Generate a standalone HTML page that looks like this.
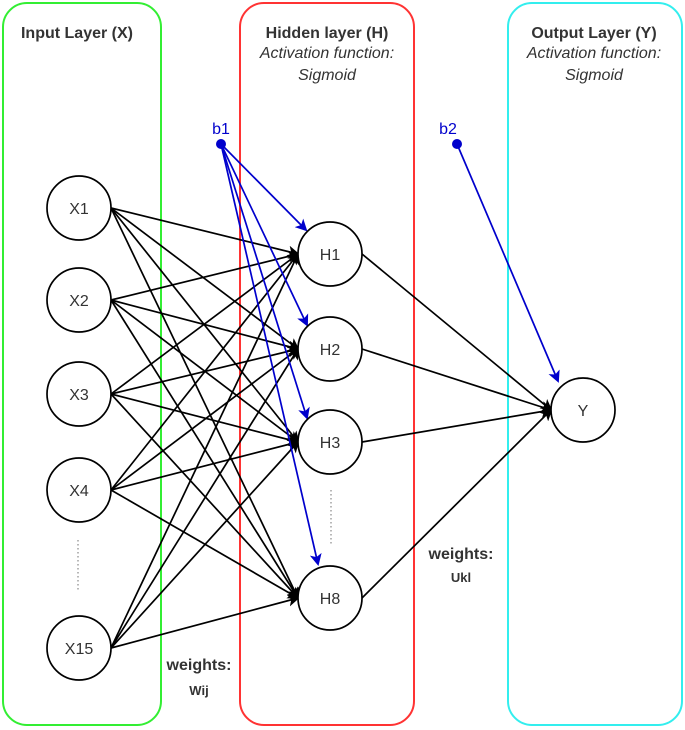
<!DOCTYPE html>
<html><head><meta charset="utf-8"><style>html,body{margin:0;padding:0;background:#fff}svg{display:block}text{font-family:"Liberation Sans",Arial,sans-serif;fill:#333}</style></head><body>
<svg width="685" height="730" viewBox="0 0 685 730" xmlns="http://www.w3.org/2000/svg">
<defs>
<marker id="ak" markerWidth="12" markerHeight="12" refX="10" refY="6" orient="auto" markerUnits="userSpaceOnUse"><path d="M0,0 L12,6 L0,12 L3,6 z" fill="#000"/></marker>
<marker id="ab" markerWidth="12" markerHeight="12" refX="10" refY="6" orient="auto" markerUnits="userSpaceOnUse"><path d="M0,0 L12,6 L0,12 L3,6 z" fill="#0000cc"/></marker>
</defs>
<rect x="3" y="3" width="158" height="722" rx="24" fill="none" stroke="#33ee33" stroke-width="2"/>
<rect x="240" y="3" width="174" height="722" rx="24" fill="none" stroke="#ff3333" stroke-width="2"/>
<rect x="508" y="3" width="174" height="722" rx="24" fill="none" stroke="#33eeee" stroke-width="2"/>
<text x="77" y="38" text-anchor="middle" font-size="16" font-weight="bold">Input Layer (X)</text>
<text x="327" y="38" text-anchor="middle" font-size="16" font-weight="bold">Hidden layer (H)</text>
<text x="327" y="58" text-anchor="middle" font-size="16" font-style="italic">Activation function:</text>
<text x="327" y="80" text-anchor="middle" font-size="16" font-style="italic">Sigmoid</text>
<text x="594" y="38" text-anchor="middle" font-size="16" font-weight="bold">Output Layer (Y)</text>
<text x="594" y="58" text-anchor="middle" font-size="16" font-style="italic">Activation function:</text>
<text x="594" y="80" text-anchor="middle" font-size="16" font-style="italic">Sigmoid</text>
<g stroke="#000" stroke-width="1.7" marker-end="url(#ak)">
<line x1="111" y1="208" x2="298" y2="254"/><line x1="111" y1="208" x2="298" y2="349"/><line x1="111" y1="208" x2="298" y2="442"/><line x1="111" y1="208" x2="298" y2="598"/>
<line x1="111" y1="300" x2="298" y2="254"/><line x1="111" y1="300" x2="298" y2="349"/><line x1="111" y1="300" x2="298" y2="442"/><line x1="111" y1="300" x2="298" y2="598"/>
<line x1="111" y1="394" x2="298" y2="254"/><line x1="111" y1="394" x2="298" y2="349"/><line x1="111" y1="394" x2="298" y2="442"/><line x1="111" y1="394" x2="298" y2="598"/>
<line x1="111" y1="490" x2="298" y2="254"/><line x1="111" y1="490" x2="298" y2="349"/><line x1="111" y1="490" x2="298" y2="442"/><line x1="111" y1="490" x2="298" y2="598"/>
<line x1="111" y1="648" x2="298" y2="254"/><line x1="111" y1="648" x2="298" y2="349"/><line x1="111" y1="648" x2="298" y2="442"/><line x1="111" y1="648" x2="298" y2="598"/>
<line x1="362" y1="254" x2="551" y2="410"/><line x1="362" y1="349" x2="551" y2="410"/><line x1="362" y1="442" x2="551" y2="410"/><line x1="362" y1="598" x2="551" y2="410"/>
</g>
<g stroke="#0000cc" stroke-width="1.7" marker-end="url(#ab)">
<line x1="221" y1="144" x2="306" y2="230"/><line x1="221" y1="144" x2="307" y2="325"/><line x1="221" y1="144" x2="307" y2="418"/><line x1="221" y1="144" x2="318" y2="564"/>
<line x1="457" y1="144" x2="558" y2="381"/>
</g>
<circle cx="221" cy="144" r="5" fill="#0000cc"/><circle cx="457" cy="144" r="5" fill="#0000cc"/>
<text x="221" y="134" text-anchor="middle" font-size="16" style="fill:#0000cc">b1</text>
<text x="448" y="134" text-anchor="middle" font-size="16" style="fill:#0000cc">b2</text>
<g fill="#fff" stroke="#000" stroke-width="1.7">
<circle cx="79" cy="208" r="32"/><circle cx="79" cy="300" r="32"/><circle cx="79" cy="394" r="32"/><circle cx="79" cy="490" r="32"/><circle cx="79" cy="648" r="32"/>
<circle cx="330" cy="254" r="32"/><circle cx="330" cy="349" r="32"/><circle cx="330" cy="442" r="32"/><circle cx="330" cy="598" r="32"/>
<circle cx="583" cy="410" r="32"/>
</g>
<g font-size="16" text-anchor="middle">
<text x="79" y="214">X1</text><text x="79" y="306">X2</text><text x="79" y="400">X3</text><text x="79" y="496">X4</text><text x="79" y="654">X15</text>
<text x="330" y="260">H1</text><text x="330" y="355">H2</text><text x="330" y="448">H3</text><text x="330" y="604">H8</text>
<text x="583" y="416">Y</text>
</g>
<line x1="78" y1="540" x2="78" y2="592" stroke="#888" stroke-width="1.2" stroke-dasharray="1.5,2.5"/>
<line x1="331" y1="490" x2="331" y2="546" stroke="#888" stroke-width="1.2" stroke-dasharray="1.5,2.5"/>
<text x="199" y="670" text-anchor="middle" font-size="16" font-weight="bold">weights:</text>
<text x="199" y="695" text-anchor="middle" font-size="13" font-weight="bold">Wij</text>
<text x="461" y="559" text-anchor="middle" font-size="16" font-weight="bold">weights:</text>
<text x="461" y="582" text-anchor="middle" font-size="13" font-weight="bold">Ukl</text>
</svg>
</body></html>
